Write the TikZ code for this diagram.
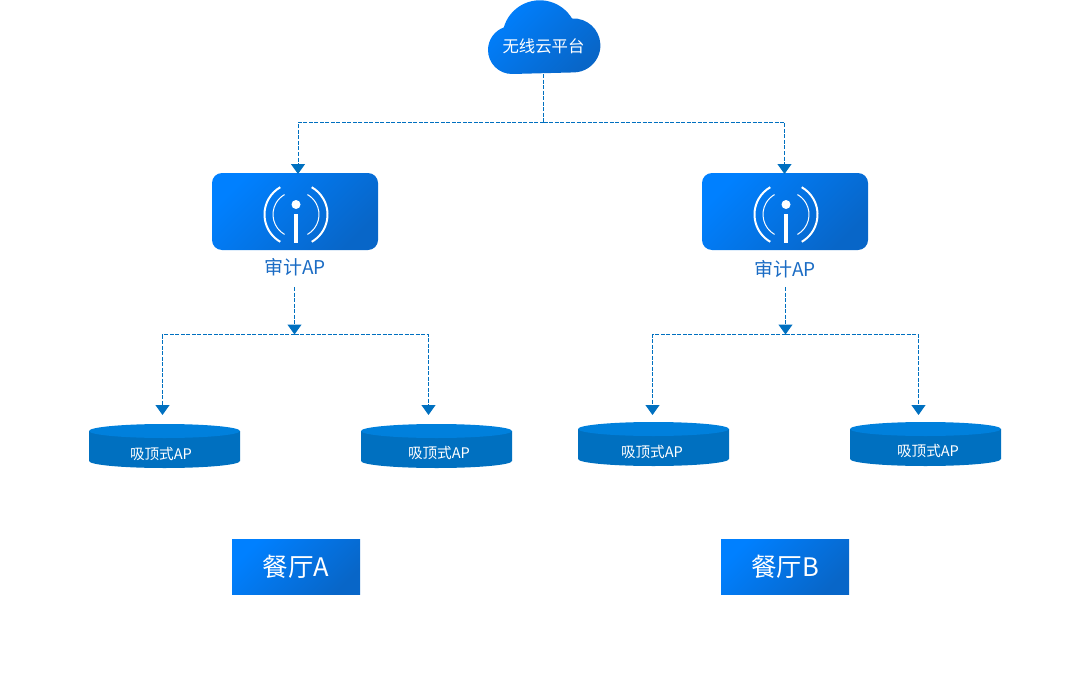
\documentclass[tikz,border=0pt]{standalone}
\usepackage{fontspec}
\setmainfont{Noto Sans CJK SC}
\usetikzlibrary{arrows.meta}
\definecolor{bluea}{HTML}{0080FF}
\definecolor{blueb}{HTML}{0866C8}
\definecolor{linkc}{HTML}{0070C0}
\definecolor{diskc}{HTML}{0070C0}
\definecolor{disktop}{HTML}{0080DC}
\definecolor{labelc}{HTML}{1B6CC4}
\tikzset{grad/.style={top color=bluea,bottom color=blueb,shading angle=45},
  link/.style={linkc,line width=1pt,dash pattern=on 4pt off 1.5pt},
  tolink/.style={link,-{Triangle[width=14pt,length=10pt,sep=0pt]}},
  audit/.style={grad,rounded corners=10pt,minimum width=166pt,minimum height=77pt,inner sep=0pt},
  room/.style={grad,minimum width=128pt,minimum height=55.5pt,inner sep=0pt,text=white,font=\fontsize{25.5}{25.5}\selectfont},
  disktext/.style={text=white,inner sep=0pt,font=\fontsize{14.6}{14.6}\selectfont},
  auditlabel/.style={text=labelc,inner sep=0pt,font=\fontsize{19}{19}\selectfont}}
\newcommand{\apicon}[1]{%
\fill[white] (#1,204.5) circle (4.5);
\fill[white] (#1-2,214) rectangle (#1+2,243);
\draw[white,line width=2pt] (#1,214.5) ++(120:31.5) arc (120:240:31.5);
\draw[white,line width=2pt] (#1,214.5) ++(60:31.5) arc (60:-60:31.5);
\draw[white,line width=1pt] (#1,214.5) ++(120:23) arc (120:240:23);
\draw[white,line width=1pt] (#1,214.5) ++(60:23) arc (60:-60:23);
}
\newcommand{\apdisk}[5]{%
\fill[diskc] (#2,#3+7) -- ++(0,30) arc (180:0:75.5 and 7) -- ++(0,-30) -- cycle;
\fill[disktop] (#2+75.5,#3+7) ellipse (75.5 and 7);
\node[disktext] (#1) at (#4,#5) {吸顶式AP};
}
\begin{document}
\begin{tikzpicture}[x=1pt,y=-1pt]
\useasboundingbox (0,0) rectangle (1089,674);
% cloud
\shade[grad] (512,74) arc (90:250:24) arc (196:329:37.5) arc (267:450:27) -- cycle;
\node[text=white,inner sep=0pt,minimum width=112pt,minimum height=56pt,font=\fontsize{16.4}{16.4}\selectfont] (cloud) at (543.5,46) {无线云平台};
% audit ap
\node[audit] (auditA) at (295,211.5) {};
\node[audit] (auditB) at (785,211.5) {};
\apicon{296}
\apicon{786}
\node[auditlabel] (labelA) at (295,267.5) {审计AP};
\node[auditlabel] (labelB) at (785,269.5) {审计AP};
% ceiling ap
\apdisk{diskA}{89}{424}{161}{454}
\apdisk{diskB}{361}{424}{439}{453}
\apdisk{diskC}{578}{422}{652}{452}
\apdisk{diskD}{850}{422}{928}{451}
% rooms
\node[room] (roomA) at (296,567) {餐厅A};
\node[room] (roomB) at (785,567) {餐厅B};
% connector ends
\coordinate (trunk) at (543.5,122.5);
\coordinate (inA) at (298,174);
\coordinate (inB) at (784.5,174);
\coordinate (outA) at (294.5,287);
\coordinate (outB) at (785.5,287);
\coordinate (forkA) at (294.5,334.5);
\coordinate (forkB) at (785.5,334.5);
\coordinate (dropA) at (162.5,415);
\coordinate (dropB) at (428.5,415);
\coordinate (dropC) at (652.5,415);
\coordinate (dropD) at (918.5,415);
\draw[link] (cloud.south) -- (trunk);
\draw[tolink] (trunk) -| (inA);
\draw[tolink] (trunk) -| (inB);
\draw[tolink] (outA) -- (forkA);
\draw[tolink] (outB) -- (forkB);
\draw[tolink] (forkA) -| (dropA);
\draw[tolink] (forkA) -| (dropB);
\draw[tolink] (forkB) -| (dropC);
\draw[tolink] (forkB) -| (dropD);
\end{tikzpicture}
\end{document}
